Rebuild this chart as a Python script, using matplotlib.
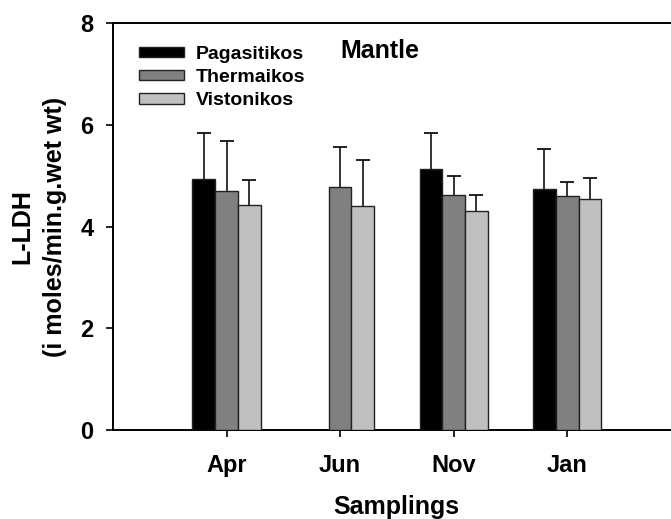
import numpy as np
import matplotlib
matplotlib.use("Agg")
import matplotlib.pyplot as plt

plt.rcParams["font.family"] = ["Liberation Sans", "DejaVu Sans"]
plt.rcParams["font.weight"] = "bold"

samplings = ["Apr", "Jun", "Nov", "Jan"]
sites = ["Pagasitikos", "Thermaikos", "Vistonikos"]
colors = ["#000000", "#808080", "#c0c0c0"]

# mean L-LDH per site (NaN = no sample)
pagasitikos = [4.93, np.nan, 5.13, 4.74]
thermaikos = [4.70, 4.78, 4.62, 4.59]
vistonikos = [4.43, 4.40, 4.31, 4.55]
# upper error bars (SD)
pagasitikos_err = [0.91, 0.0, 0.71, 0.78]
thermaikos_err = [0.99, 0.79, 0.37, 0.28]
vistonikos_err = [0.49, 0.91, 0.30, 0.40]

means = [pagasitikos, thermaikos, vistonikos]
errs = [pagasitikos_err, thermaikos_err, vistonikos_err]

fig = plt.figure(figsize=(6.71, 5.19), dpi=100)
ax = fig.add_axes([113 / 671, 89 / 519, 567.7 / 671, 407 / 519])

x = np.arange(1, len(samplings) + 1)
w = 0.2
for i, (m, e, c, name) in enumerate(zip(means, errs, colors, sites)):
    m = np.array(m)
    e = np.array(e)
    pos = x + (i - 1) * w
    ax.bar(pos, m, w, color=c, edgecolor="#222222", linewidth=1.0, label=name,
           zorder=3)
    ok = ~np.isnan(m)
    # upper-only error bars: stem + cap at the top
    ax.errorbar(pos[ok], m[ok], yerr=[np.zeros(ok.sum()), e[ok]], fmt="none",
                ecolor="#111111", elinewidth=1.2, capsize=0, zorder=2)
    ax.plot(pos[ok], (m + e)[ok], ls="none", marker="_", ms=10, mew=1.3,
            color="#111111", zorder=2)

ax.set_xlim(0, 5)
ax.set_ylim(0, 8)
ax.set_yticks([0, 2, 4, 6, 8])
ax.set_xticks(x)
ax.set_xticklabels(samplings)
ax.tick_params(axis="both", direction="out", length=5, width=1.2, labelsize=17)
ax.tick_params(axis="x", pad=12)
ax.tick_params(axis="y", pad=9)
for lab in ax.get_xticklabels() + ax.get_yticklabels():
    lab.set_fontweight("bold")
for s in ax.spines.values():
    s.set_linewidth(1.4)
ax.spines["right"].set_visible(False)

ax.set_xlabel("Samplings", fontsize=18, fontweight="bold", labelpad=13)
ax.set_ylabel("L-LDH\n(i moles/min.g.wet wt)", fontsize=18, fontweight="bold",
              va="center", ha="center", multialignment="center", linespacing=1.45)
ax.yaxis.set_label_coords(-0.131, 0.5)

ax.legend(loc="upper left", bbox_to_anchor=(0.046, 0.944), frameon=False,
          handlelength=2.3, handleheight=0.45, handletextpad=0.6,
          labelspacing=0.32, borderpad=0, borderaxespad=0,
          prop={"weight": "bold", "size": 14})
ax.text(0.47, 0.932, "Mantle", transform=ax.transAxes, ha="center", va="center",
        fontsize=18, fontweight="bold")

fig.savefig("out.png", dpi=100)
